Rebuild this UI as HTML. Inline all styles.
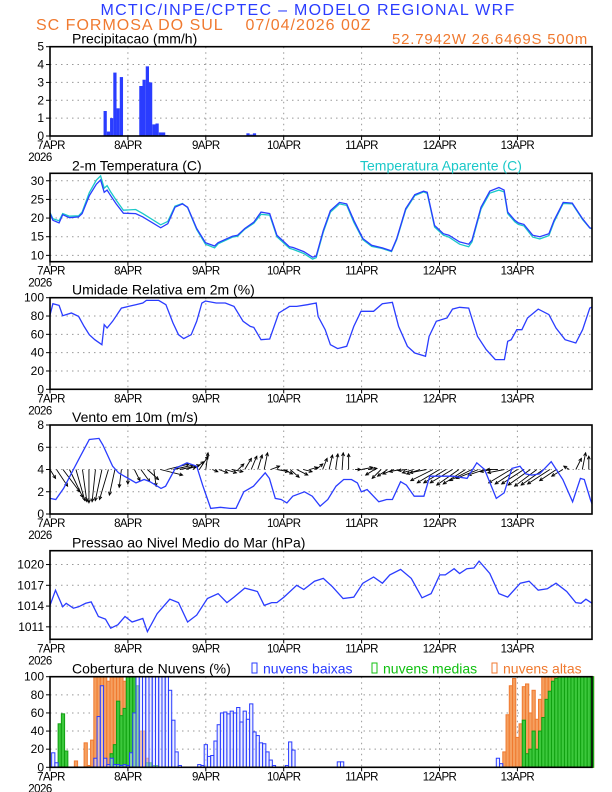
<!DOCTYPE html>
<html><head><meta charset="utf-8"><style>
html,body{margin:0;padding:0;background:#fff;}
svg{display:block;font-family:"Liberation Sans",sans-serif;}
</style></head><body>
<svg id="chart" width="612" height="792" viewBox="0 0 612 792" xmlns="http://www.w3.org/2000/svg">
<text x="308" y="15" text-anchor="middle" font-size="16" letter-spacing="1.3" fill="#2a3cff">MCTIC/INPE/CPTEC – MODELO REGIONAL WRF</text>
<text x="36" y="30" font-size="16" letter-spacing="1" fill="#f07a30">SC FORMOSA DO SUL&#160;&#160;&#160;&#160;07/04/2026 00Z</text>
<text x="588" y="44" text-anchor="end" font-size="15" letter-spacing="0.8" fill="#f07a30">52.7942W 26.6469S 500m</text>
<g id="plots"></g>
</svg>
<script>
// ---------- data ----------
const dayLabels = ["7APR","8APR","9APR","10APR","11APR","12APR","13APR"];
const precipHours = [17,18,19,20,21,22,28,29,30,31,32,33,34,35,36,61,62,63,163,164];
const precipVals  = [1.4,0.25,1.0,3.55,1.55,3.3,2.8,3.15,3.9,3.0,0.65,0.7,0.2,0.2,0.05,0.15,0.08,0.15,0.03,0.03];
const tempHours = [0,0.9,2.8,3.9,6,8.8,9.9,12.1,14.3,15.6,16.7,17.6,18.7,20.4,22.6,26.4,28.6,34.1,36.3,38.5,40.8,42.4,45.2,47.9,50.7,51.8,56.2,57.8,60,62.8,65,67.7,69.9,73.8,74.9,78.2,80.9,82,84.2,86.4,89.2,91.4,93.6,96.4,99.1,102.4,105.2,106.8,109.6,112.4,115.1,116.2,118.5,121.2,122.9,126.2,129,130,132.8,135.5,138.3,139.9,141,143.2,144.3,146,148.7,150.9,153.7,155.3,158.1,160.9,164.1,166.3,167];
const tempVals = [21.3,19.4,18.7,20.9,20.1,20.3,21.2,26,29.1,30.2,26.9,27.5,26,23.8,21.3,21.2,20.3,17.4,18.5,22.9,23.8,22.9,17.2,13.4,12.5,13.4,15.1,15.4,17.2,18.9,21.6,21.2,15.4,12.3,12.1,11,9.5,9.8,16.7,22,24.2,23.8,19.4,14.5,12.7,12,11.2,14.5,22.5,26.3,27.2,26.9,18,15.8,15.4,13.6,13,14.1,22.9,27.2,28.2,27.5,21.6,19.4,18.7,18.3,15.4,15,15.8,19.4,24.2,24,19.8,17.4,17.2];
const apparentVals = [21.5,19.8,19.3,21.2,20.5,20.6,21.6,26.8,30.2,31.3,28,28.7,27,24.8,22.1,22.3,21.2,18.2,19.1,23.2,23.9,22.8,16.9,13,12,13.1,14.9,15.1,17,18.6,21,20.8,15,11.9,11.6,10.5,9,9.4,16.2,21.6,23.8,23.4,18.9,14.2,12.4,11.8,11,14.2,22.2,26,27,26.6,17.6,15.4,14.9,13,12.3,13.6,22.4,26.7,27.5,27,21.2,19,18.3,17.9,14.9,14.4,15.3,19,23.9,23.8,19.6,17.3,17.1];
const rhHours = [0,0.9,2.8,3.9,6.6,8.8,10.5,12.1,13.8,16,16.7,17.6,19.3,22,24.2,26.4,28.6,29.7,33.5,35.7,37.9,39.6,41.2,43.5,45.2,46.8,47.9,51.2,54,56.7,59.5,61.7,62.8,65,67.7,70.5,73.8,76,79.3,82,82.6,84.8,86.4,88.6,91.4,93.6,95.8,99.7,102.4,105.5,107.4,110.1,112.4,115.7,116.8,119,122.3,124,126.2,129,131.7,134.4,137.2,140,141,142.1,143.8,145.4,147.1,150.4,153.7,155.9,158.7,162,164.1,166.3,167];
const rhVals = [81,93.5,91.6,80.4,83.3,79.6,68.7,59.6,54.2,48.7,70.5,66.9,74.2,88.7,90.5,92.4,94.2,97.1,97.1,92.4,72.4,59.6,55.3,59.6,74.2,94.2,96.4,94.2,94.2,90.5,74.2,68.7,67.6,54.2,54.9,83.3,90.5,90.5,92.4,94.2,79.6,65.1,48.7,44.4,46.9,68.7,85.1,85.1,93.5,94.9,68.7,46.9,39.6,36,57.8,74.2,77.8,87.6,89.5,88.7,57.8,43.3,32.4,32.4,52.4,54.2,65.1,65.1,77.8,87.6,81.5,66.9,54.2,50.5,65.1,88.7,89.8];
const windHours = [0,1.8,4.2,7.2,9,12.1,15.1,16.3,19.3,21.1,22.9,24.7,26.5,29,30.8,34.2,35.6,38.6,42.2,45.2,47,49.5,52.5,55.5,57.3,59.7,62.7,66.3,67.6,69.4,71.2,73,74.8,78.4,80.8,83.2,85.6,88.1,90.5,92.9,94.7,95.9,97.7,101.3,103.7,105.5,108,109.8,112.2,115.2,117,120.6,124.2,128.5,131.5,133.9,137.5,139.9,142.3,144.8,146.6,148.4,150.8,154.4,158,161,163.4,164.6,166.5,167];
const windVals = [1.4,1.3,2.3,4,5,6.7,6.8,6.2,4.3,3.7,3.4,3.1,2.8,3.1,2.9,2.3,2.5,4.1,4.6,4.3,2.6,0.5,0.6,0.5,0.5,2,2.5,3.7,3.2,1.4,1.3,1,1.6,2,1.6,0.7,1.3,2.5,3.1,3.1,2.8,2,2.2,1.1,1.3,1.3,2.9,2.6,1.6,1.6,3.4,3.4,3.4,3.2,4.6,4,1.4,1.9,4.1,4.3,3.6,3.5,3.6,4.7,3.1,1.1,3.2,3.1,1.3,0.9];
const arrowU = [0.5,1,1.5,1.2,0.8,0.4,0,-0.3,-0.6,-0.8,-0.5,-0.2,0,0.5,0.8,1,0.2,2,2,1.8,1.5,1.2,1,0.8,0.2,0.5,0.8,1,1,0.5,0.6,0.5,0.4,0.3,0.8,1,0.8,0.8,1,0.8,0.7,0.6,0.4,0.3,0.2,0.1,0,0.5,1,0.8,-0.8,-0.8,-0.9,-1,-1,-0.8,-1,-1.2,-1.5,-2,-2,-2,-2,-2,-2,-2,-2,-1.5,-1,-1,-1.5,-2,-2,-2,-2,-2,-2,-2,-1.5,-1,-0.5,0.5,0.3,0];
const arrowV = [-0.8,-1.5,-2,-2.5,-2.8,-2.9,-3,-2.9,-2.8,-2.7,-2.3,-1.6,-1.3,-1,-1.1,-0.9,-1.5,-0.5,0.5,0.4,0.3,0.4,0.7,1.2,1.5,-0.2,-0.3,-0.3,-0.2,0.5,1,1.2,1.3,1.5,0.3,-0.2,-0.4,-0.7,-0.5,-0.2,0.2,0.5,1,1.3,1.4,1.5,1.4,0,0.2,0.1,-0.5,-0.8,-0.6,-0.4,-0.2,-0.1,-0.3,-0.4,-0.3,-1,-1.2,-1.2,-1.2,-1.4,-1.3,-1,-0.8,-0.5,-0.2,0,-0.3,-1.2,-1.3,-1.3,-1.4,-1.5,-1.4,-1.3,-1,-0.6,0.3,1,1.5,1.2];
const presHours = [0,1.7,3.9,5,7.2,8.8,11,12.7,14.9,17.1,18.7,20.9,23.1,25.3,28.6,30,33,36.9,39.6,42.4,45.2,48.5,51.8,54.5,56.7,60,63.9,66,68.3,69.9,72.1,76,78.2,81.5,84.2,87,90.3,93.6,96.4,99.7,102.4,104.7,108,111.3,114.6,117.4,120.1,121.8,124.5,126.2,128.4,130.6,132.2,135.5,138.3,141,144.9,147.6,150.4,153.2,155.9,159.2,162,163.6,165.1,167];
const presVals = [1014.1,1016.3,1013.9,1014.4,1013.7,1013.9,1014.4,1014.6,1012.5,1012.1,1010.8,1011.3,1012.5,1011.7,1012.2,1010.3,1012.9,1015,1014.5,1011.7,1012.7,1015.1,1015.8,1014.5,1015.3,1016.6,1016.1,1014.1,1014.5,1014.5,1015.3,1017,1016.4,1017.6,1018,1016.8,1015.1,1015.3,1017.3,1018.2,1017.3,1018.5,1019.3,1018,1015.2,1015.8,1018.5,1018.5,1019.4,1018.7,1019.4,1019.5,1020.5,1018.7,1015.8,1015.3,1017.3,1017.6,1016.3,1016.5,1017.3,1016.1,1014.5,1014.4,1015,1014.4];
const lowHours = [1,2,14,15,16,17,18,19,20,21,22,23,24,25,26,27,28,29,30,31,32,33,34,35,36,37,38,39,40,46,47,48,49,50,51,52,53,54,55,56,57,58,59,60,61,62,63,64,65,66,67,68,69,73,74,75,89,90,138,139];
const lowVals  = [16,5,10,56,90,10,3,10,3,3,2,3,2,16,60,100,100,100,100,100,100,100,100,100,100,85,52,17,2,3,2,25,12,13,29,47,60,61,59,62,60,66,50,62,53,70,39,35,27,26,17,8,2,2,28,19,6,6,10,4];
const midHours = [3,4,5,19,20,21,22,23,24,25,26,27,30,31,32,33,146,147,148,149,150,151,152,153,154,155,156,157,158,159,160,161,162,163,164,165,166,167];
const midVals  = [48,59,18,15,25,73,57,65,100,100,100,90,5,5,2,2,52,15,20,40,20,40,55,75,84,95,98,100,100,100,100,100,100,100,100,100,100,100];
const highHours = [8,11,12,13,14,15,16,17,18,19,20,21,22,23,24,25,26,28,29,30,140,141,142,143,144,145,146,147,148,149,150,151,152,153,154,155,156,157,158,159,160,161,162,163,164,165,166,167];
const highVals  = [7,27,2,30,100,100,100,100,95,100,100,100,100,95,100,100,100,40,40,10,17,58,90,98,33,48,89,92,60,85,53,75,100,100,100,100,100,100,100,100,100,100,100,100,100,100,100,100];

// ---------- layout ----------
const NS = "http://www.w3.org/2000/svg";
const root = document.getElementById("plots");
const X0 = 50, X1 = 592, PXH = 77.9/24;
const X = h => X0 + h*PXH;
function el(tag, attrs, parent){ const e=document.createElementNS(NS,tag); for(const k in attrs) e.setAttribute(k,attrs[k]); (parent||root).appendChild(e); return e; }
function txt(x,y,s,attrs,parent){ const t=el("text",Object.assign({x:x,y:y,"font-size":12,fill:"#000"},attrs||{}),parent); t.textContent=s; return t; }

function panel(name, top, bottom, ymin, ymax, ticks, title, tickFmt){
  const g = el("g",{});
  
  
  const Y = v => bottom - (v-ymin)/(ymax-ymin)*(bottom-top);
  for(let d=1; d<7; d++){
    const gl = el("line",{x1:X(d*24),x2:X(d*24),y1:top,y2:bottom,stroke:"#999","stroke-dasharray":"1.5,4","stroke-width":1},g);
    
    
  }
  ticks.forEach(v=>{
    if(v>ymin && v<ymax){
      const hl = el("line",{x1:X0,x2:X1,y1:Y(v),y2:Y(v),stroke:"#999","stroke-dasharray":"1.5,4","stroke-width":1},g);
      
      
    }
    const tl = el("line",{x1:X0-4,x2:X0,y1:Y(v),y2:Y(v),stroke:"#000","stroke-width":1},g);
    
    
    const lab = txt(X0-6,Y(v)+4,tickFmt?tickFmt(v):String(v),{"text-anchor":"end","font-size":12},g);
    
    
  });
  dayLabels.forEach((s,i)=>{
    const xt = el("line",{x1:X(i*24),x2:X(i*24),y1:bottom,y2:bottom+4,stroke:"#000"},g);
    
    
    const lab = txt(i===0?X0+1:X(i*24),bottom+13,s,{"text-anchor":"middle","font-size":11.5,"letter-spacing":"-0.6"},g);
    
    
  });
  const yr = txt(X0-10,bottom+25,"2026",{"text-anchor":"middle","font-size":11.5,"letter-spacing":"-0.5"},g);
  
  
  const tt = txt(72,top-3,title,{"font-size":14},g);
  
  
  const marks = el("g",{},g);
  
  
  const fr = el("rect",{x:X0,y:top,width:X1-X0,height:bottom-top,fill:"none",stroke:"#000","stroke-width":1.6},g);
  
  
  return {Y:Y, g:marks};
}
function line(p, hours, vals, color, name){
  const pts = hours.map((h,i)=>X(h).toFixed(1)+","+p.Y(vals[i]).toFixed(1)).join(" ");
  const pl = el("polyline",{points:pts,fill:"none",stroke:color,"stroke-width":1.3},p.g);
  
  
}
function bars(p, hours, vals, fill, stroke, name){
  hours.forEach((h,i)=>{
    const y = p.Y(vals[i]), y0 = p.Y(0);
    const r = el("rect",{x:X(h)-PXH/2,y:y,width:PXH,height:Math.max(0.5,y0-y),fill:fill,stroke:stroke,"stroke-width":stroke==="none"?0:1},p.g);
    
    
  });
}

const pP = panel("precipitation",46.7,136,0,5,[0,1,2,3,4,5],"Precipitacao (mm/h)");
bars(pP, precipHours, precipVals, "#2a3cff","none","precip-bar");
const pT = panel("temperature",173.3,261.7,8.3,32,[10,15,20,25,30],"2-m Temperatura (C)");
const at = txt(360,170.3,"Temperatura Aparente (C)",{"font-size":14,fill:"#1ac8c8"});


line(pT, tempHours, apparentVals, "#1ac8c8", "apparent-temp-line");
line(pT, tempHours, tempVals, "#2a3cff", "temp-line");
const pH = panel("humidity",297.7,389.3,0,100,[0,20,40,60,80,100],"Umidade Relativa em 2m (%)");
line(pH, rhHours, rhVals, "#2a3cff", "humidity-line");
const pW = panel("wind",425,514,0,8,[0,2,4,6,8],"Vento em 10m (m/s)");
const scl = (514-425)/8;
arrowU.forEach((u,i)=>{
  const h = i*2, x1 = X(h), y1 = pW.Y(4), x2 = x1+u*scl, y2 = y1 - arrowV[i]*scl;
  const a = el("line",{x1:x1,y1:y1,x2:x2,y2:y2,stroke:"#000","stroke-width":0.9},pW.g);
  
  
  const ang = Math.atan2(y2-y1,x2-x1), L=3.5;
  const hd = el("polyline",{points:`${x2-L*Math.cos(ang-0.45)},${y2-L*Math.sin(ang-0.45)} ${x2},${y2} ${x2-L*Math.cos(ang+0.45)},${y2-L*Math.sin(ang+0.45)}`,fill:"none",stroke:"#000","stroke-width":0.9},pW.g);
  
  
});
line(pW, windHours, windVals, "#2a3cff", "wind-speed-line");
const pR = panel("pressure",550.7,639.3,1009.2,1022,[1011,1014,1017,1020],"Pressao ao Nivel Medio do Mar (hPa)");
line(pR, presHours, presVals, "#2a3cff", "pressure-line");
const pC = panel("clouds",676.7,767.3,0,100,[0,20,40,60,80,100],"Cobertura de Nuvens (%)");
bars(pC, highHours, highVals, "#f5a060","#f07a30","high-cloud-bar");
bars(pC, midHours, midVals, "#3cc83c","#10a010","mid-cloud-bar");
bars(pC, lowHours, lowVals, "rgba(220,225,255,0.5)","#2a3cff","low-cloud-bar");
[["#2a3cff",252,"nuvens baixas","legend-low-clouds"],["#10c010",372,"nuvens medias","legend-mid-clouds"],["#f07a30",492,"nuvens altas","legend-high-clouds"]].forEach(l=>{
  const b = el("rect",{x:l[1],y:663,width:5,height:10,fill:"none",stroke:l[0],"stroke-width":1});
  
  
  const t = txt(l[1]+11,673.5,l[2],{"font-size":14,fill:l[0]});
  
  
});
</script>
</body></html>
